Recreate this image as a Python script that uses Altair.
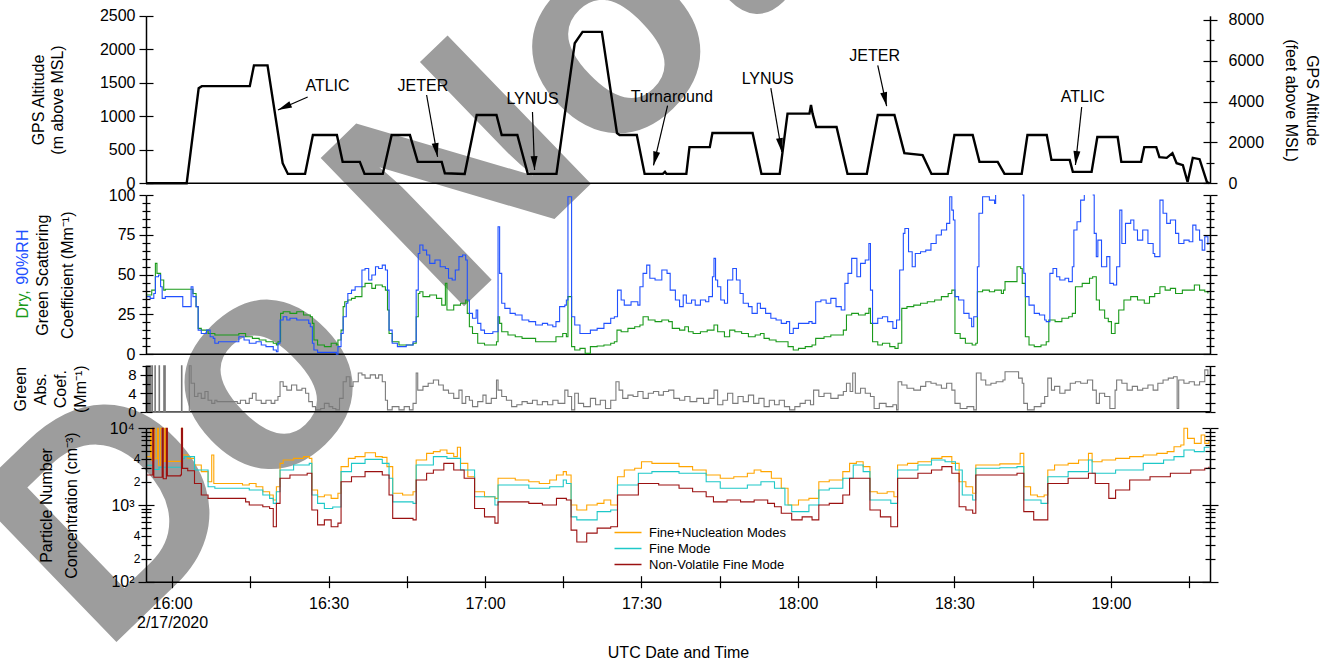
import math
import altair as alt
import pandas as pd

W, H = 1338, 664
T0, T1 = -5, 199            # minutes after 16:00 UTC, 2/17/2020
XR = [146, 1210]
R_ALT = [183.3, 15.8]
R_SCA = [354.3, 195]
R_ABS = [411.7, 365.7]
R_PNC = [581.7, 428.3]
FT_PER_M = 3.28084
FONT = "Liberation Sans"

# ---------------- data (minutes after 16:00, value) ----------------
ALTITUDE = [(-5, 0), (2.8, 0), (5.1, 1420), (5.7, 1450), (14.9, 1450), (15.7, 1760), (18.3, 1760),
            (21.2, 300), (22.2, 140), (25.5, 140), (27.0, 720), (31.6, 720), (32.7, 320), (36.0, 320),
            (36.9, 140), (40.4, 140), (42.1, 720), (45.6, 720), (47.1, 320), (51.7, 320), (52.3, 150),
            (56.1, 140), (58.4, 1020), (62.2, 1020), (63.2, 720), (66.2, 720), (68.2, 140), (73.7, 140),
            (77.2, 2090), (78.7, 2260), (82.4, 2260), (85.3, 750), (85.8, 720), (89.1, 720), (90.6, 140),
            (94.1, 140), (94.5, 170), (94.8, 140), (98.6, 140), (99.2, 540), (103.1, 540), (103.6, 750),
            (111.3, 750), (113.0, 140), (116.5, 140), (118.0, 1040), (122.2, 1040), (122.5, 1170),
            (122.8, 1040), (123.5, 840), (127.4, 840), (129.5, 140), (133.2, 140), (135.3, 1020),
            (138.5, 1020), (140.4, 450), (143.9, 420), (145.6, 140), (148.7, 140), (150.0, 720),
            (153.5, 720), (154.8, 320), (158.3, 320), (159.6, 140), (162.9, 140), (164.0, 720),
            (167.7, 720), (168.6, 350), (172.1, 350), (172.7, 170), (176.3, 170), (177.4, 690),
            (181.3, 690), (182.0, 320), (185.8, 320), (186.4, 540), (188.7, 540), (189.3, 390),
            (190.7, 380), (191.8, 450), (192.6, 300), (193.8, 270), (194.7, 20), (195.7, 380),
            (197.0, 360), (198.4, 20), (198.9, 0)]

# label, text t, text alt, arrow start t, alt, arrow tip t, alt
ANNOTATIONS = [("ATLIC", 29.8, 1452, 26.0, 1288, 20.3, 1094),
               ("JETER", 48.1, 1452, 48.8, 1318, 50.9, 393),
               ("LYNUS", 69.1, 1257, 69.1, 1064, 69.5, 199),
               ("Turnaround", 95.8, 1288, 95.0, 1161, 92.3, 266),
               ("LYNUS", 114.2, 1557, 114.8, 1422, 116.9, 467),
               ("JETER", 134.7, 1907, 135.3, 1761, 137.0, 1153),
               ("ATLIC", 174.6, 1288, 174.4, 1139, 173.2, 273)]

SCAT_DRY = [(-4.9, 37.2), (-3.9, 40.3), (-3.2, 57.1), (-2.9, 50.8), (-2.2, 46.6), (-1.6, 40.3), (-1.3, 40.8),
            (3.6, 40.8), (4.0, 38.2), (4.6, 29.9), (5.0, 16.3), (5.6, 15.2), (6.9, 13.1), (8.2, 12.1),
            (12.5, 12.1), (12.8, 13.1), (14.1, 11.0), (15.4, 10.0), (16.7, 9.0), (18.0, 7.9), (19.4, 6.9),
            (20.0, 5.8), (20.3, 7.9), (20.8, 25.7), (21.3, 26.7), (22.6, 25.7), (23.9, 26.7), (25.2, 24.7),
            (26.5, 23.6), (26.9, 19.4), (27.2, 9.0), (27.9, 5.8), (29.2, 4.8), (30.5, 6.9), (31.5, 5.8),
            (31.8, 9.0), (32.4, 15.2), (32.8, 29.9), (33.1, 33.0), (33.7, 34.1), (34.4, 35.1), (35.1, 36.2),
            (36.4, 42.4), (37.0, 44.5), (38.3, 41.4), (39.0, 43.5), (40.3, 42.4), (40.9, 40.3), (41.3, 27.8),
            (41.6, 13.1), (42.2, 7.9), (43.5, 5.8), (44.9, 5.8), (46.2, 6.9), (46.8, 23.6), (47.2, 38.2),
            (47.5, 39.3), (48.1, 36.2), (49.4, 37.2), (50.7, 35.1), (51.7, 30.9), (52.4, 44.5), (52.7, 27.8),
            (54.0, 30.9), (55.3, 32.0), (56.3, 34.1), (56.6, 25.7), (57.0, 17.3), (57.6, 13.1), (58.6, 6.9),
            (59.9, 5.8), (61.2, 5.8), (62.2, 7.9), (62.5, 23.6), (62.8, 19.4), (63.2, 14.2), (64.4, 12.1),
            (65.8, 11.0), (67.1, 10.0), (68.4, 10.0), (69.7, 7.9), (71.0, 7.9), (73.0, 7.9), (73.6, 11.0),
            (74.9, 13.1), (75.6, 11.0), (75.9, 36.2), (76.25, 36.2), (76.6, 4.8), (77.2, 2.7), (78.2, 3.7),
            (79.2, 0.6), (80.2, 4.8), (81.5, 5.2), (82.8, 5.8), (84.1, 6.9), (84.8, 7.9), (85.3, 15.2),
            (86.1, 14.2), (87.4, 16.3), (88.7, 17.3), (89.7, 18.4), (90.3, 23.6), (91.3, 21.5), (92.6, 20.5),
            (93.9, 21.5), (95.2, 20.5), (95.9, 16.3), (97.3, 15.2), (98.3, 17.3), (99.0, 14.2), (99.9, 13.1),
            (101.3, 14.2), (102.6, 15.2), (103.9, 18.4), (104.6, 14.2), (105.9, 11.0), (106.9, 15.2),
            (107.9, 14.2), (109.2, 13.1), (110.5, 11.0), (111.8, 12.1), (112.8, 13.1), (113.5, 10.0),
            (114.5, 9.0), (115.8, 7.9), (117.1, 7.9), (118.1, 4.8), (119.1, 2.7), (120.1, 3.7), (121.4, 4.8),
            (122.7, 5.8), (123.4, 10.0), (125.0, 11.0), (126.3, 12.1), (127.7, 12.1), (128.7, 15.2),
            (129.3, 24.7), (130.3, 25.7), (131.6, 24.7), (132.9, 25.7), (133.6, 28.8), (133.9, 19.4),
            (134.3, 7.9), (135.3, 5.8), (136.2, 6.9), (137.6, 4.8), (138.6, 3.7), (139.2, 6.9), (139.9, 28.8),
            (140.9, 29.9), (142.2, 30.9), (143.5, 32.0), (144.8, 33.0), (146.2, 34.1), (147.5, 36.2),
            (148.8, 38.2), (149.5, 40.3), (150.1, 13.1), (151.1, 10.0), (152.1, 6.9), (153.4, 5.8),
            (154.1, 6.9), (154.4, 39.3), (155.4, 40.3), (156.7, 39.3), (157.7, 40.3), (159.0, 38.2),
            (159.4, 40.3), (159.7, 45.6), (161.7, 45.6), (162.0, 55.0), (162.7, 53.9), (163.0, 44.5),
            (163.6, 11.0), (164.3, 5.8), (165.3, 4.8), (166.6, 5.8), (167.6, 7.9), (168.1, 21.5),
            (169.3, 20.5), (170.6, 22.6), (171.9, 23.6), (172.6, 25.7), (173.2, 42.4), (174.5, 44.5),
            (175.9, 47.7), (176.5, 48.7), (177.2, 34.1), (177.8, 27.8), (178.8, 22.6), (179.5, 20.5),
            (180.1, 13.1), (180.8, 19.4), (181.5, 27.8), (182.5, 34.1), (183.8, 36.2), (185.1, 34.1),
            (186.4, 32.0), (187.4, 36.2), (188.4, 38.2), (189.4, 42.4), (190.4, 40.3), (191.4, 41.4),
            (192.4, 38.2), (193.7, 40.3), (195.0, 40.3), (196.0, 43.5), (197.0, 40.3), (198.0, 39.3),
            (198.6, 38.2)]

# None = trace leaves the top of the panel
SCAT_WET = [(-4.9, 36.2), (-4.2, 35.1), (-3.5, 38.2), (-3.2, 48.7), (-2.6, 49.8), (-2.2, 42.4), (-1.9, 35.1),
            (-1.3, 36.2), (2.0, 36.2), (2.05, 29.9), (3.6, 29.9), (3.65, 42.4), (4.0, 36.2), (4.6, 29.9),
            (5.0, 15.2), (5.6, 13.1), (6.6, 15.2), (7.3, 11.0), (7.9, 10.0), (8.2, 6.9), (8.9, 7.9),
            (12.5, 7.9), (12.8, 11.0), (13.8, 9.0), (14.8, 6.9), (16.1, 7.9), (17.1, 5.8), (18.0, 4.8),
            (19.0, 4.8), (19.4, 2.7), (20.0, 1.6), (20.3, 6.9), (20.7, 21.5), (21.3, 23.6), (22.0, 21.5),
            (22.6, 22.6), (23.9, 21.5), (25.2, 21.5), (26.2, 19.4), (26.5, 17.3), (26.9, 6.9), (27.2, 2.7),
            (27.9, 1.2), (29.2, 1.2), (30.8, 1.2), (31.5, 0.0), (31.8, 4.8), (32.4, 13.1), (32.8, 23.6),
            (33.4, 32.0), (33.7, 38.2), (34.4, 40.3), (35.1, 42.4), (36.4, 52.9), (37.0, 53.9), (37.7, 46.6),
            (38.3, 49.8), (39.0, 55.0), (39.6, 53.9), (40.3, 56.0), (40.9, 52.9), (41.3, 40.3), (41.6, 15.2),
            (42.2, 6.9), (43.2, 4.8), (44.9, 5.8), (46.2, 7.9), (46.8, 40.3), (47.2, 63.3), (47.5, 68.6),
            (48.1, 65.4), (48.8, 62.3), (49.4, 57.1), (50.4, 59.2), (51.4, 55.0), (52.4, 53.9), (53.0, 47.7),
            (53.7, 46.6), (54.3, 52.9), (55.0, 61.3), (55.7, 62.3), (56.3, 59.2), (56.6, 34.1), (57.0, 25.7),
            (57.6, 22.6), (58.3, 27.8), (58.6, 19.4), (59.2, 15.2), (59.9, 13.1), (60.9, 13.1), (61.5, 14.2),
            (62.2, 14.2), (62.5, 80.1), (62.8, 50.8), (63.2, 32.0), (63.8, 28.8), (64.8, 25.7), (65.8, 24.7),
            (67.1, 21.5), (68.4, 20.5), (69.7, 18.4), (71.0, 19.4), (72.0, 18.4), (73.0, 17.3), (73.6, 20.5),
            (74.3, 29.9), (75.3, 30.9), (75.6, 34.1), (75.9, 98.9), (76.25, 98.9), (76.6, 23.6), (77.2, 18.4),
            (78.2, 13.1), (79.2, 13.1), (80.2, 15.2), (81.5, 16.3), (82.8, 19.4), (84.1, 22.6), (84.8, 23.6),
            (85.4, 40.3), (86.1, 34.1), (86.7, 30.9), (88.0, 33.0), (89.3, 30.9), (89.7, 42.4), (90.3, 50.8),
            (91.0, 56.0), (91.6, 47.7), (92.6, 46.6), (93.9, 52.9), (94.9, 50.8), (95.5, 40.3), (96.5, 34.1),
            (97.3, 29.9), (98.0, 37.2), (98.6, 32.0), (99.6, 34.1), (100.3, 30.9), (101.3, 34.1), (102.3, 33.0),
            (102.9, 36.2), (103.6, 48.7), (103.9, 60.2), (104.2, 46.6), (104.6, 42.4), (105.2, 34.1),
            (105.9, 32.0), (106.5, 46.6), (107.5, 53.9), (108.2, 46.6), (108.9, 38.2), (109.5, 32.0),
            (110.5, 29.9), (111.2, 25.7), (112.2, 32.0), (112.8, 28.8), (113.8, 25.7), (114.8, 22.6),
            (115.8, 21.5), (116.8, 19.4), (117.8, 20.5), (118.4, 13.1), (119.1, 16.3), (120.1, 19.4),
            (121.1, 19.4), (122.1, 20.5), (122.7, 19.4), (123.4, 33.0), (124.4, 34.1), (125.4, 32.0),
            (126.3, 35.1), (127.3, 29.9), (128.3, 27.8), (129.0, 44.5), (129.6, 50.8), (130.3, 60.2),
            (131.3, 48.7), (132.0, 57.1), (132.9, 59.2), (133.6, 69.6), (133.9, 40.3), (134.3, 19.4),
            (135.3, 22.6), (136.2, 23.6), (137.2, 20.5), (138.2, 16.3), (138.9, 21.5), (139.5, 52.9),
            (140.2, 75.9), (140.5, 79.0), (141.2, 64.4), (141.9, 55.0), (142.5, 63.3), (143.5, 64.4),
            (144.5, 65.4), (145.5, 69.6), (146.5, 74.9), (147.5, 78.0), (148.5, 82.2), (149.1, 98.9),
            (149.5, 90.5), (149.8, 84.3), (150.1, 36.2), (150.8, 34.1), (151.8, 25.7), (152.8, 22.6),
            (153.3, 17.3), (153.7, 23.6), (154.4, 55.0), (154.7, 88.5), (155.4, 98.9), (156.7, 96.8),
            (157.7, 94.7), (157.9, 100.0), None,
            (163.0, 100.0), (163.3, 50.8), (163.6, 36.2), (164.3, 30.9), (165.3, 25.7), (166.3, 24.7),
            (167.3, 21.5), (167.6, 20.5), (168.3, 50.8), (168.9, 53.9), (169.6, 48.7), (170.2, 46.6),
            (171.2, 47.7), (171.9, 45.6), (172.6, 55.0), (172.9, 78.0), (173.5, 83.2), (174.2, 96.8),
            (174.9, 100.0), None,
            (176.5, 100.0), (176.8, 75.9), (177.2, 61.3), (177.5, 71.7), (178.2, 55.0), (179.2, 61.3),
            (179.8, 44.5), (180.5, 43.5), (181.1, 55.0), (181.7, 90.5), (182.1, 69.6), (182.8, 82.2),
            (183.8, 84.3), (184.4, 78.0), (185.1, 71.7), (186.1, 78.0), (187.1, 69.6), (188.1, 63.3),
            (188.4, 61.3), (189.4, 96.8), (190.0, 88.5), (190.7, 82.2), (191.4, 84.3), (192.4, 75.9),
            (193.0, 69.6), (194.0, 71.7), (195.0, 70.7), (195.7, 81.1), (196.3, 78.0), (197.0, 71.7),
            (197.5, 65.4), (198.0, 73.8), (198.6, 68.6)]

ABSORPTION = [(-5.0, 0), (-4.95, 10), (-4.8, 0), (-4.6, 10), (-4.45, 0), (-4.3, 10), (-4.15, 0), (-3.9, 10),
              (-3.75, 0), (-3.3, 10), (-3.2, 0), (-2.5, 10), (-2.4, 0), (-1.6, 10), (-1.45, 0), (-1.4, 10),
              (-1.3, 0), (1.8, 10), (1.9, 0), (3.3, 10), (3.65, 6.2), (4.3, 3.3), (4.96, 4.0), (5.6, 2.9),
              (6.3, 4.4), (6.9, 2.5), (7.6, 1.8), (8.2, 2.5), (8.6, 2.2), (12.2, 2.2), (12.5, 1.8), (13.1, 2.5),
              (14.1, 1.8), (14.8, 2.9), (15.4, 4.0), (16.1, 2.5), (17.1, 1.8), (18.0, 2.5), (19.0, 1.8),
              (19.7, 2.5), (20.3, 3.3), (20.7, 6.5), (21.3, 5.5), (22.0, 4.7), (22.9, 5.8), (23.9, 4.7),
              (24.9, 5.1), (25.6, 4.0), (26.2, 2.2), (26.9, 1.1), (27.5, 0.4), (28.5, 0.7), (29.2, 1.8),
              (30.1, 1.1), (30.8, 0.7), (31.4, 0.4), (32.1, 2.9), (32.8, 6.5), (33.4, 7.6), (34.1, 5.5),
              (34.7, 6.5), (35.7, 8.4), (36.4, 8.0), (37.0, 7.3), (38.0, 8.0), (39.0, 7.3), (39.6, 8.0),
              (40.3, 6.5), (40.9, 2.5), (41.3, 0.4), (42.2, 1.1), (43.5, 0.4), (44.5, 1.1), (45.5, 0.4),
              (46.2, 1.8), (46.8, 8.4), (47.1, 4.7), (48.1, 5.5), (49.1, 6.2), (50.1, 6.9), (51.1, 5.8),
              (52.0, 4.7), (53.0, 4.0), (54.0, 2.9), (55.0, 4.7), (55.6, 1.8), (56.3, 3.3), (57.0, 2.5),
              (57.6, 1.1), (58.6, 2.2), (59.6, 3.6), (60.2, 1.8), (61.2, 2.9), (62.2, 6.9), (62.5, 4.7),
              (63.2, 3.3), (64.1, 2.5), (65.1, 1.1), (66.1, 1.5), (67.1, 2.2), (68.1, 1.8), (69.1, 2.5),
              (70.0, 1.5), (71.0, 2.2), (72.0, 1.5), (73.0, 2.5), (74.0, 1.8), (75.3, 4.7), (75.9, 3.3),
              (76.6, 0.4), (77.2, 4.0), (77.9, 1.8), (78.9, 1.1), (80.2, 2.9), (81.2, 1.5), (82.1, 2.5),
              (83.1, 0.7), (84.1, 2.5), (85.1, 6.5), (85.7, 4.7), (86.4, 2.9), (87.4, 3.6), (88.4, 3.3),
              (89.3, 4.4), (90.3, 2.9), (91.3, 4.0), (92.3, 4.4), (93.3, 3.6), (94.2, 4.4), (95.2, 4.7),
              (96.2, 2.9), (97.3, 2.5), (98.3, 3.3), (99.3, 2.2), (100.6, 2.9), (101.9, 1.8), (102.9, 2.9),
              (103.9, 4.7), (104.6, 1.5), (105.6, 2.5), (106.5, 4.0), (107.5, 1.8), (108.5, 3.3), (109.5, 2.2),
              (110.5, 3.6), (111.5, 1.8), (112.5, 2.9), (113.5, 1.1), (114.5, 2.5), (115.5, 1.5), (116.4, 2.5),
              (117.4, 1.1), (118.4, 0.4), (119.4, 1.1), (120.4, 1.8), (121.4, 2.5), (122.4, 1.5), (123.0, 4.7),
              (124.0, 3.3), (125.0, 4.0), (126.3, 2.9), (127.7, 3.6), (128.7, 4.4), (129.3, 6.2), (130.0, 4.4),
              (130.5, 8.4), (131.0, 4.0), (132.0, 5.1), (132.9, 4.0), (133.9, 3.3), (134.6, 0.7), (135.6, 1.8),
              (136.9, 1.1), (138.2, 1.5), (138.9, 0.4), (139.2, 6.5), (139.9, 5.8), (140.9, 5.1), (142.2, 4.7),
              (143.5, 5.5), (144.5, 6.5), (145.5, 6.2), (146.5, 5.8), (147.5, 5.1), (148.5, 6.2), (149.5, 4.7),
              (150.1, 1.8), (151.1, 0.7), (152.4, 1.1), (153.7, 0.4), (154.2, 8.4), (155.1, 6.9), (156.0, 5.8),
              (157.0, 6.2), (158.0, 6.5), (159.3, 6.9), (159.7, 8.7), (161.7, 8.7), (162.3, 7.3), (163.0, 6.2),
              (163.3, 1.8), (164.0, 0.4), (165.3, 1.1), (166.6, 1.8), (167.3, 3.3), (167.9, 7.3), (168.6, 4.7),
              (169.2, 5.5), (170.2, 4.0), (171.2, 4.7), (172.2, 6.2), (173.2, 6.5), (174.2, 6.2), (175.5, 6.9),
              (176.5, 4.7), (177.2, 1.8), (177.8, 4.0), (178.8, 3.3), (179.8, 0.7), (180.8, 4.7), (181.1, 6.9),
              (182.1, 6.2), (183.1, 4.7), (184.1, 5.5), (185.1, 4.7), (186.1, 5.1), (187.1, 5.8), (188.1, 4.7),
              (189.0, 6.2), (190.0, 6.9), (191.0, 7.3), (192.0, 7.6), (192.7, 0.7), (193.0, 6.9), (194.0, 6.2),
              (195.0, 6.5), (196.0, 5.8), (197.0, 6.5), (198.0, 9.1), (198.6, 8.0)]

PN_FINE_NUC = [(-5.0, 4270), (-4.2, 4270), (-4.1, 10000), (-3.9, 3800), (-3.5, 10000), (-3.3, 4000),
               (-2.8, 10000), (-2.6, 3300), (-2.2, 10000), (-1.8, 3700), (-1.4, 10000), (-1.2, 3700),
               (1.6, 3700), (1.8, 10000), (2.0, 4480), (3.0, 4060), (4.3, 3320), (5.6, 2720), (6.9, 2010),
               (7.6, 4480), (8.0, 1910), (12.8, 1910), (13.5, 1820), (14.8, 1910), (16.1, 1730), (17.4, 1490),
               (18.7, 1350), (19.4, 1160), (20.0, 1730), (20.7, 3490), (21.3, 3860), (23.3, 4060), (25.2, 4270),
               (26.3, 4060), (26.8, 1570), (27.9, 1280), (29.2, 1350), (30.5, 1220), (31.8, 1420), (32.4, 3160),
               (33.8, 4060), (35.1, 4270), (37.0, 4810), (39.0, 4270), (40.3, 4180), (41.2, 3160), (42.3, 1420),
               (44.2, 1350), (46.2, 1490), (46.8, 3860), (48.8, 4710), (50.1, 4960), (51.4, 5210), (52.7, 4710),
               (54.0, 4270), (54.7, 5650), (55.3, 3490), (56.7, 2340), (58.0, 1490), (59.9, 1280), (61.9, 1220),
               (62.5, 2230), (63.8, 2230), (65.8, 2120), (68.4, 2010), (70.4, 1910), (72.4, 2120), (73.7, 2460),
               (75.0, 2720), (75.6, 2460), (76.5, 1000), (77.6, 860), (79.5, 1000), (81.5, 1050), (82.8, 1160),
               (84.1, 1000), (85.4, 2340), (86.7, 2860), (88.7, 3010), (90.0, 3670), (92.0, 3490), (94.6, 3490),
               (97.2, 3160), (99.8, 2860), (102.4, 2460), (105.1, 2230), (107.7, 2340), (110.3, 2590),
               (111.6, 2860), (112.9, 2720), (114.9, 2230), (116.8, 1650), (118.1, 1000), (120.1, 1160),
               (122.1, 1220), (124.0, 2010), (126.0, 2120), (128.6, 2720), (129.9, 3490), (131.2, 3670),
               (132.5, 3160), (133.8, 1490), (135.2, 1420), (137.1, 1490), (138.4, 1280), (139.1, 3320),
               (141.0, 3490), (143.0, 3670), (145.6, 4060), (147.6, 4270), (149.5, 3490), (150.9, 2010),
               (152.2, 1730), (153.5, 1420), (154.1, 3320), (156.1, 3320), (158.7, 3440), (162.0, 3440),
               (162.6, 4710), (163.3, 1730), (164.6, 1350), (165.9, 1280), (167.2, 1350), (167.9, 2860),
               (169.2, 3320), (171.8, 3490), (173.8, 3860), (175.7, 4710), (176.4, 3670), (178.3, 3860),
               (180.9, 4060), (183.6, 4270), (186.2, 4480), (188.8, 4710), (190.8, 4960), (192.1, 5750),
               (193.4, 6050), (194.0, 10000), (194.7, 7390), (196.0, 6360), (197.3, 8170), (198.0, 6360),
               (198.8, 7030)]

PN_FINE = [(-5.0, 3300), (-3.5, 2900), (-2.5, 3100), (1.6, 3100), (2.0, 4000), (2.35, 4270), (4.3, 2860),
           (6.9, 1730), (8.2, 1650), (12.8, 1650), (14.8, 1570), (17.4, 1350), (18.7, 1220), (19.4, 1050),
           (20.0, 1490), (20.7, 2860), (23.3, 3320), (26.3, 3490), (26.8, 1350), (27.9, 1050), (29.2, 900),
           (30.8, 940), (32.4, 2720), (34.4, 3490), (37.0, 3940), (40.3, 3490), (41.6, 2230), (42.3, 1100),
           (46.2, 1050), (46.8, 3320), (50.1, 4270), (52.7, 4060), (55.3, 2860), (58.0, 1280), (61.9, 1000),
           (62.5, 1820), (68.4, 1650), (72.4, 1730), (75.0, 2120), (75.6, 1910), (76.5, 700), (77.6, 640),
           (81.5, 820), (84.1, 860), (85.4, 1820), (89.4, 2590), (92.0, 2720), (97.2, 2590), (102.4, 2010),
           (105.1, 1650), (107.7, 1650), (110.3, 1820), (112.9, 2010), (115.5, 1650), (117.5, 1000),
           (118.8, 820), (122.1, 1000), (124.0, 1570), (126.0, 1650), (128.6, 2230), (130.6, 3320),
           (132.5, 2720), (133.8, 1160), (137.8, 1050), (139.1, 2860), (143.0, 3320), (145.6, 3860),
           (148.2, 3670), (150.2, 2860), (151.5, 1350), (153.5, 1160), (154.1, 3010), (158.7, 3060),
           (162.0, 3160), (163.3, 1160), (166.6, 1050), (167.9, 2340), (171.8, 2720), (175.7, 3860),
           (176.4, 2590), (180.9, 2860), (186.2, 3490), (190.1, 3860), (192.1, 4270), (194.0, 5210),
           (196.0, 4960), (197.9, 5650), (198.8, 5750)]

PN_NONVOL = [(-5.0, 2460), (-3.8, 2460), (-3.7, 10000), (-3.5, 2300), (-2.0, 2300), (-1.9, 10000), (-1.7, 2200),
             (-1.1, 10000), (-0.9, 2400), (1.6, 2460), (1.8, 10000), (2.0, 3000), (3.0, 2800), (4.3, 1910),
             (5.6, 1350), (6.9, 1220), (12.8, 1220), (14.1, 1100), (14.8, 1000), (16.1, 1000), (17.4, 950),
             (18.7, 900), (19.4, 520), (20.0, 1050), (20.7, 2230), (22.6, 2460), (25.9, 2590), (26.8, 860),
             (27.9, 550), (29.2, 640), (30.5, 520), (31.8, 580), (32.4, 2010), (34.4, 2340), (37.0, 2720),
             (40.3, 2460), (41.6, 1350), (42.3, 670), (46.2, 640), (46.8, 2120), (48.8, 2590), (50.1, 2860),
             (52.1, 3490), (54.0, 2860), (56.0, 2230), (58.0, 900), (59.9, 700), (61.9, 580), (62.5, 1100),
             (68.4, 1050), (71.0, 1000), (73.7, 1220), (75.6, 1160), (76.5, 470), (77.6, 330), (79.5, 430),
             (81.5, 500), (84.1, 520), (85.4, 1350), (89.4, 1910), (93.3, 1820), (97.2, 1650), (99.8, 1490),
             (102.4, 1280), (103.8, 1100), (106.4, 1160), (109.0, 1100), (111.6, 1160), (114.2, 1050),
             (115.5, 950), (116.8, 780), (118.8, 640), (120.8, 700), (122.7, 640), (124.0, 1000), (126.0, 1050),
             (128.6, 1350), (129.9, 2230), (131.9, 2230), (133.8, 860), (135.8, 700), (137.8, 520),
             (139.1, 2230), (143.0, 2590), (145.6, 2860), (147.6, 3160), (149.5, 2590), (150.9, 950),
             (152.2, 860), (153.5, 780), (154.1, 2460), (158.7, 2460), (162.0, 2590), (163.3, 820),
             (165.2, 640), (167.2, 640), (167.9, 1910), (171.8, 2230), (175.7, 2590), (177.0, 1910),
             (179.6, 1220), (180.9, 1570), (183.6, 2120), (187.5, 2340), (191.4, 2590), (195.3, 2860),
             (198.0, 3010), (198.8, 3160)]

PN_NAMES = ["Fine+Nucleation Modes", "Fine Mode", "Non-Volatile Fine Mode"]
PN_COLORS = ["#ffa500", "#1ec8c8", "#9b1111"]

X_MAJOR_LABELS = ["16:00", "16:30", "17:00", "17:30", "18:00", "18:30", "19:00"]

# ---------------- scales ----------------
xs = alt.Scale(domain=[T0, T1], range=XR, nice=False, zero=False)


def lin(dom, rng):
    return alt.Scale(domain=dom, range=rng, nice=False, zero=False)


S_ALT = ([0, 2500], R_ALT)
S_FT = ([0, 2500 * FT_PER_M], R_ALT)
S_SCA = ([0, 100], R_SCA)
S_ABS = ([0, 10], R_ABS)


def s_pnc():
    return alt.Scale(type="log", domain=[100, 10000], range=R_PNC, nice=False)


def pairs_df(pairs):
    rows, seg = [], 0
    for p in pairs:
        if p is None:
            seg += 1
            continue
        rows.append((p[0], p[1], seg))
    return pd.DataFrame(rows, columns=["t", "v", "seg"])


def line_layer(pairs, yscale, color, width=1.1, interp="step-after"):
    return alt.Chart(pairs_df(pairs)).mark_line(color=color, strokeWidth=width, interpolate=interp).encode(
        x=alt.X("t:Q", scale=xs, axis=None),
        y=alt.Y("v:Q", scale=yscale, axis=None),
        detail="seg:N")


def axis_layers(yscale_fn, dom, orient, pos, values, half, **kw):
    if orient == "left":
        o_out, o_in = -pos, -(pos + half)
    elif orient == "right":
        o_out, o_in = -(W - pos), -(W - pos + half)
    else:
        o_out, o_in = -(H - pos), -(H - pos + half)
    kw.setdefault("labels", False)
    kw.setdefault("domain", False)
    kw.setdefault("title", None)
    base = dict(orient=orient, values=values, tickSize=half, grid=False, labelOverlap=False,
                labelFlush=False, zindex=2)
    outer = alt.Axis(offset=o_out, **base, **kw)
    inner = alt.Axis(offset=o_in, labels=False, domain=False, title=None, **base)
    out = []
    for ax in (outer, inner):
        if orient == "bottom":
            df = pd.DataFrame({"t": [T0, T1]})
            out.append(alt.Chart(df).mark_point(opacity=0).encode(
                x=alt.X("t:Q", scale=xs, axis=ax), y=alt.value(0)))
        else:
            df = pd.DataFrame({"t": [T0, T1], "v": dom})
            out.append(alt.Chart(df).mark_point(opacity=0).encode(
                x=alt.X("t:Q", scale=xs, axis=None), y=alt.Y("v:Q", scale=yscale_fn(), axis=ax)))
    return out


layers = []

# watermark (drawn first, underneath everything)
layers.append(alt.Chart(pd.DataFrame({"s": ["Do Not Cite"]})).mark_text(
    align="left", baseline="alphabetic", angle=316, fontSize=300, font=FONT, fontWeight="bold",
    color="#9d9d9d").encode(x=alt.value(102), y=alt.value(656), text="s:N"))

# panel baselines
for dom, rng in (S_ALT, S_SCA, S_ABS):
    layers.append(alt.Chart(pd.DataFrame({"t": [T0], "t2": [T1], "v": [0]})).mark_rule(
        color="black", strokeWidth=1.5).encode(
        x=alt.X("t:Q", scale=xs, axis=None), x2="t2:Q", y=alt.Y("v:Q", scale=lin(dom, rng), axis=None)))

# data
layers.append(line_layer(ALTITUDE, lin(*S_ALT), "black", width=2.4, interp="linear"))
layers.append(line_layer(SCAT_DRY, lin(*S_SCA), "#1a9a1a"))
layers.append(line_layer(SCAT_WET, lin(*S_SCA), "#2050ff"))
layers.append(line_layer(ABSORPTION, lin(*S_ABS), "#7a7a7a"))

pn_rows = []
for name, series in zip(PN_NAMES, (PN_FINE_NUC, PN_FINE, PN_NONVOL)):
    for t, v in series:
        pn_rows.append((t, v, name))
pn_df = pd.DataFrame(pn_rows, columns=["t", "v", "series"])
layers.append(alt.Chart(pn_df).mark_line(strokeWidth=1.1, interpolate="step-after").encode(
    x=alt.X("t:Q", scale=xs, axis=None),
    y=alt.Y("v:Q", scale=s_pnc(), axis=None),
    color=alt.Color("series:N", scale=alt.Scale(domain=PN_NAMES, range=PN_COLORS),
                    legend=alt.Legend(orient="none", legendX=621.5, legendY=526, title=None,
                                      symbolType="M-2.7,0L2.7,0", symbolSize=100, symbolStrokeWidth=1.5,
                                      labelFontSize=13, labelFont=FONT, labelOffset=14.5, rowPadding=2,
                                      padding=0, labelColor="black", zindex=2))))

# annotations
PXM = (XR[1] - XR[0]) / (T1 - T0)
PYA = (R_ALT[0] - R_ALT[1]) / 2500.0
ann = pd.DataFrame(ANNOTATIONS, columns=["label", "t", "a", "t1", "a1", "t2", "a2"])
ann["ang"] = [math.degrees(math.atan2((r.t2 - r.t1) * PXM, (r.a2 - r.a1) * PYA)) % 360
              for r in ann.itertuples()]
layers.append(alt.Chart(ann).mark_rule(color="black", strokeWidth=1.2).encode(
    x=alt.X("t1:Q", scale=xs, axis=None), x2="t2:Q",
    y=alt.Y("a1:Q", scale=lin(*S_ALT), axis=None), y2="a2:Q"))
layers.append(alt.Chart(ann).mark_point(shape="M0,0L-0.6,2.4L0.6,2.4Z", filled=True, size=135,
                                        color="black", opacity=1).encode(
    x=alt.X("t2:Q", scale=xs, axis=None),
    y=alt.Y("a2:Q", scale=lin(*S_ALT), axis=None),
    angle=alt.Angle("ang:Q", scale=None)))
layers.append(alt.Chart(ann).mark_text(font=FONT, fontSize=16, color="black").encode(
    x=alt.X("t:Q", scale=xs, axis=None),
    y=alt.Y("a:Q", scale=lin(*S_ALT), axis=None),
    text="label:N"))

# two-coloured first line of the scattering axis title
layers.append(alt.Chart(pd.DataFrame({"s": ["Dry,"]})).mark_text(
    angle=270, align="left", baseline="middle", font=FONT, fontSize=16, color="#1a9a1a").encode(
    x=alt.value(22.5), y=alt.value(318.5), text="s:N"))
layers.append(alt.Chart(pd.DataFrame({"s": ["90%RH"]})).mark_text(
    angle=270, align="left", baseline="middle", font=FONT, fontSize=16, color="#2050ff").encode(
    x=alt.value(22.5), y=alt.value(284.7), text="s:N"))

# ---------------- axes ----------------
f_alt = lambda: lin(*S_ALT)
f_ft = lambda: lin(*S_FT)
f_sca = lambda: lin(*S_SCA)
f_abs = lambda: lin(*S_ABS)

LT = dict(titleAngle=270, titleAlign="center", titleBaseline="middle")
# panel 1
layers += axis_layers(f_alt, S_ALT[0], "left", XR[0], [0, 500, 1000, 1500, 2000, 2500], 7,
                      labels=True, domain=True, labelPadding=4, format="d",
                      title=["GPS Altitude", "(m above MSL)"], titleX=38.5 - XR[0], titleY=99.5,
                      titleLineHeight=19, **LT)
layers += axis_layers(f_ft, S_FT[0], "right", XR[1], [0, 2000, 4000, 6000, 8000], 7,
                      labels=True, domain=True, labelPadding=11, format="d",
                      title=["GPS Altitude", "(feet above MSL)"], titleX=1311.7 - XR[1], titleY=100,
                      titleAngle=90, titleAlign="center", titleBaseline="middle", titleLineHeight=21.7)
layers += axis_layers(f_ft, S_FT[0], "right", XR[1], [1000, 3000, 5000, 7000], 4)
# panel 2
layers += axis_layers(f_sca, S_SCA[0], "left", XR[0], [0, 25, 50, 75, 100], 7,
                      labels=True, domain=True, labelPadding=4,
                      title=["Green Scattering", "Coefficient (Mm\u207b\u00b9)"], titleX=42.5 - XR[0],
                      titleY=274.7, titleLineHeight=25, **LT)
minor5 = [v for v in range(5, 100, 5) if v % 25]
layers += axis_layers(f_sca, S_SCA[0], "left", XR[0], minor5, 4)
layers += axis_layers(f_sca, S_SCA[0], "right", XR[1], [0, 25, 50, 75, 100], 7, domain=True)
layers += axis_layers(f_sca, S_SCA[0], "right", XR[1], minor5, 4)
# panel 3
layers += axis_layers(f_abs, S_ABS[0], "left", XR[0], [0, 4, 8], 6,
                      labels=True, domain=True, labelPadding=4, labelFontSize=15,
                      title=["Green", "Abs.", "Coef.", "(Mm\u207b\u00b9)"], titleX=20 - XR[0], titleY=388.7,
                      titleLineHeight=20.3, **LT)
layers += axis_layers(f_abs, S_ABS[0], "left", XR[0], [2, 6, 10], 4)
layers += axis_layers(f_abs, S_ABS[0], "right", XR[1], [0, 2, 4, 6, 8, 10], 5, domain=True)
# panel 4
layers += axis_layers(s_pnc, [100, 10000], "left", XR[0], [100, 1000, 10000], 8,
                      labels=True, domain=True, labelPadding=4,
                      labelExpr="datum.value == 100 ? '10\u00b2' : datum.value == 1000 ? '10\u00b3' : '10\u2074'",
                      title=["Particle Number", "Concentration (cm\u207b\u00b3)"], titleX=46.5 - XR[0],
                      titleY=505, titleLineHeight=25, **LT)
layers += axis_layers(s_pnc, [100, 10000], "left", XR[0], [200, 400, 2000, 4000], 5,
                      labels=True, labelPadding=1, labelFontSize=12,
                      labelExpr="(datum.value == 200 || datum.value == 2000) ? '2' : '4'")
layers += axis_layers(s_pnc, [100, 10000], "left", XR[0],
                      [300, 500, 600, 700, 800, 900, 3000, 5000, 6000, 7000, 8000, 9000], 5)
layers += axis_layers(s_pnc, [100, 10000], "right", XR[1], [100, 1000, 10000], 8, domain=True)
layers += axis_layers(s_pnc, [100, 10000], "right", XR[1],
                      [200, 300, 400, 500, 600, 700, 800, 900, 2000, 3000, 4000, 5000, 6000, 7000, 8000, 9000], 5)
# time axis
xlab = "[" + ", ".join(["['16:00', '2/17/2020']"] + ["'" + s + "'" for s in X_MAJOR_LABELS[1:]]) + "]"
x_expr = "datum.value % 30 == 0 ? " + xlab + "[datum.value / 30] : ''"
layers += axis_layers(None, None, "bottom", R_PNC[0], list(range(0, 200, 15)), 6,
                      labels=True, domain=True, labelPadding=7.5, labelLineHeight=19,
                      labelExpr=x_expr,
                      title="UTC Date and Time", titleX=678, titleY=70.3, titleBaseline="middle",
                      titleAlign="center")

chart = alt.layer(*layers).resolve_scale(y="independent").resolve_axis(
    x="independent", y="independent").properties(
    width=W, height=H, padding=0, autosize=alt.AutoSizeParams(type="none")
).configure_view(stroke=None).configure_axis(
    labelFont=FONT, titleFont=FONT, labelFontSize=16, titleFontSize=16, titleFontWeight="normal",
    labelColor="black", titleColor="black", domainColor="black", domainWidth=1.5,
    tickColor="black", tickWidth=1.2)

chart.save("out.html", embed_options={"renderer": "svg", "actions": False})
